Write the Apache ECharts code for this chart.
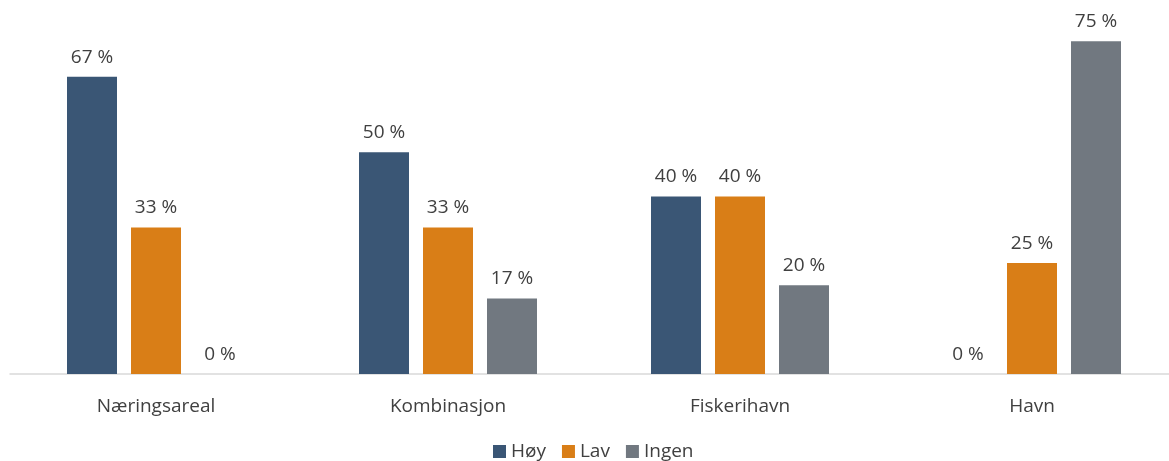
<!DOCTYPE html>
<html lang="no">
<head>
    <meta charset="UTF-8">
    <title>Havn</title>
    <script src="https://cdn.jsdelivr.net/npm/echarts@6/dist/echarts.min.js"></script>
    <style>
        body{ margin: 0; background: #fff; overflow: hidden; }
        /* plot runs a bit past the right edge like the original */
        #chart{ width: 1182px; height: 461px; }
    </style>
</head>
<body>
    <div id="chart"></div>
    <script>
        var categories = ['Næringsareal', 'Kombinasjon', 'Fiskerihavn', 'Havn'];
        var hoy = [67, 50, 40, 0];
        var lav = [33, 33, 40, 25];
        var ingen = [0, 17, 20, 75];

        var font = '"Open Sans", Lato, sans-serif';
        var textColor = '#404040';

        function bar(name, data, color) {
            return {
                name: name,
                type: 'bar',
                data: data,
                barWidth: 50,
                barGap: '28%',
                itemStyle: { color: color },
                label: {
                    show: true,
                    position: 'top',
                    distance: 10,
                    formatter: '{c} %',
                    color: textColor,
                    fontFamily: font,
                    fontSize: 19
                }
            };
        }

        var myChart = echarts.init(document.getElementById('chart'));
        myChart.setOption({
            animation: false,
            textStyle: { fontFamily: font },
            legend: {
                top: 437,
                left: 488,
                itemWidth: 13,
                itemHeight: 13,
                itemGap: 16,
                icon: 'rect',
                textStyle: { color: textColor, fontSize: 19, fontFamily: font }
            },
            grid: { left: 10, right: 4, top: 19, bottom: 87 },
            xAxis: {
                type: 'category',
                data: categories,
                axisLine: { lineStyle: { color: '#d9d9d9', width: 1.5 } },
                axisTick: { show: false },
                axisLabel: { color: textColor, fontSize: 19, fontFamily: font, margin: 23 }
            },
            yAxis: {
                type: 'value',
                min: 0,
                max: 80,
                show: false
            },
            series: [
                bar('Høy', hoy, '#3a5675'),
                bar('Lav', lav, '#d97e17'),
                bar('Ingen', ingen, '#717880')
            ]
        });
    </script>
</body>
</html>
